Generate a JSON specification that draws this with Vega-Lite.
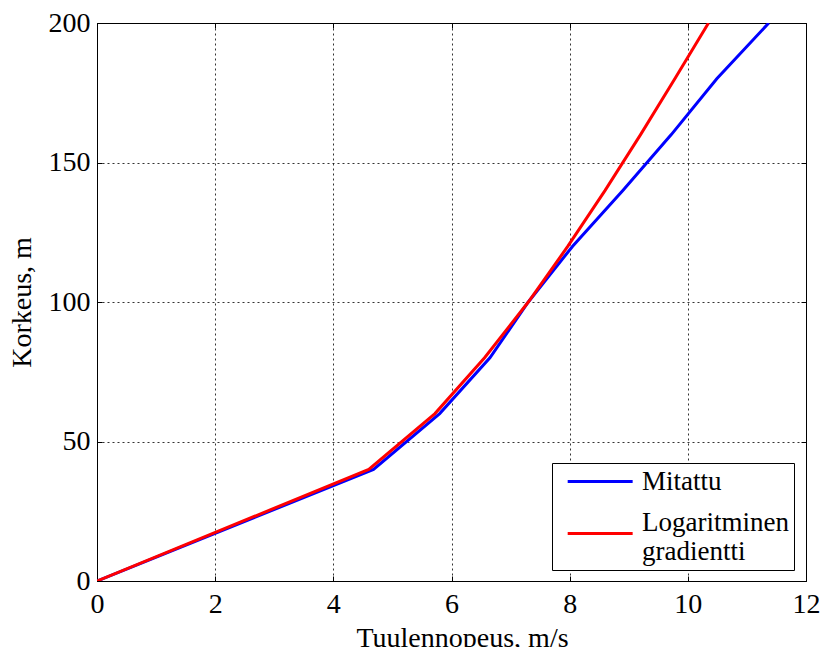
{
  "$schema": "https://vega.github.io/schema/vega-lite/v6.json",
  "width": 709,
  "height": 558,
  "autosize": {"type": "none"},
  "padding": {"left": 97, "top": 23, "right": 16, "bottom": 66},
  "background": "white",
  "config": {
    "font": "Liberation Serif",
    "view": {"stroke": "black", "strokeWidth": 1},
    "axis": {
      "labelFont": "Liberation Serif",
      "titleFont": "Liberation Serif",
      "labelFontSize": 28,
      "titleFontSize": 28,
      "titleFontWeight": "normal",
      "labelColor": "black",
      "titleColor": "black",
      "domainColor": "black",
      "tickColor": "black",
      "gridColor": "black",
      "gridDash": [2, 3],
      "gridOpacity": 0.8,
      "gridWidth": 1,
      "labelFlush": false,
      "labelOverlap": false
    }
  },
  "data": {
    "values": [
      {"v": 0, "h": 0, "s": "Mitattu"},
      {"v": 4.68, "h": 40, "s": "Mitattu"},
      {"v": 5.8, "h": 60, "s": "Mitattu"},
      {"v": 6.65, "h": 80, "s": "Mitattu"},
      {"v": 7.3, "h": 100, "s": "Mitattu"},
      {"v": 8.05, "h": 120, "s": "Mitattu"},
      {"v": 8.9, "h": 140, "s": "Mitattu"},
      {"v": 9.72, "h": 160, "s": "Mitattu"},
      {"v": 10.49, "h": 180, "s": "Mitattu"},
      {"v": 11.37, "h": 200, "s": "Mitattu"},
      {"v": 0, "h": 0, "s": "Logaritminen gradientti"},
      {"v": 4.6, "h": 40, "s": "Logaritminen gradientti"},
      {"v": 5.72, "h": 60, "s": "Logaritminen gradientti"},
      {"v": 6.56, "h": 80, "s": "Logaritminen gradientti"},
      {"v": 7.3, "h": 100, "s": "Logaritminen gradientti"},
      {"v": 7.97, "h": 120, "s": "Logaritminen gradientti"},
      {"v": 8.6, "h": 140, "s": "Logaritminen gradientti"},
      {"v": 9.2, "h": 160, "s": "Logaritminen gradientti"},
      {"v": 9.78, "h": 180, "s": "Logaritminen gradientti"},
      {"v": 10.35, "h": 200, "s": "Logaritminen gradientti"}
    ]
  },
  "layer": [
    {
      "mark": {"type": "line", "strokeWidth": 3, "clip": true},
      "encoding": {
        "x": {
          "field": "v",
          "type": "quantitative",
          "scale": {"domain": [0, 12], "nice": false, "zero": false},
          "axis": {
            "orient": "bottom",
            "grid": true,
            "values": [0, 2, 4, 6, 8, 10, 12],
            "title": "Tuulennopeus, m/s",
            "tickSize": -5,
            "labelPadding": 14,
            "titleBaseline": "alphabetic",
            "titleY": 65,
            "titleX": 365
          }
        },
        "y": {
          "field": "h",
          "type": "quantitative",
          "scale": {"domain": [0, 200], "nice": false},
          "axis": {
            "orient": "left",
            "grid": true,
            "values": [0, 50, 100, 150, 200],
            "title": "Korkeus, m",
            "tickSize": -5,
            "labelPadding": 12,
            "titleAngle": -90,
            "titleBaseline": "middle",
            "titleX": -75,
            "titleY": 279
          }
        },
        "color": {
          "field": "s",
          "type": "nominal",
          "scale": {"domain": ["Mitattu", "Logaritminen gradientti"], "range": ["#0000ff", "#ff0000"]},
          "legend": {
            "title": null,
            "orient": "none",
            "legendX": 455,
            "legendY": 440,
            "strokeColor": "black",
            "fillColor": "white",
            "padding": 5,
            "symbolType": "M-0.26,0H5.74",
            "symbolSize": 469,
            "symbolStrokeWidth": 3,
            "labelFont": "Liberation Serif",
            "labelFontSize": 27,
            "labelColor": "black",
            "labelLimit": 300,
            "labelOffset": 58,
            "rowPadding": 13,
            "labelExpr": "datum.label == 'Logaritminen gradientti' ? ['Logaritminen', 'gradientti'] : datum.label",
            "encode": {
              "labels": {"update": {"dy": {"signal": "datum.index == 1 ? -11 : 0"}}}
            }
          }
        },
        "order": {"field": "h", "type": "quantitative"}
      }
    },
    {
      "mark": {"type": "line", "opacity": 0, "clip": true},
      "encoding": {
        "x": {
          "field": "v",
          "type": "quantitative",
          "scale": {"domain": [0, 12], "nice": false, "zero": false},
          "axis": {
            "orient": "top",
            "values": [0, 2, 4, 6, 8, 10, 12],
            "title": null,
            "labels": false,
            "grid": false,
            "domain": false,
            "tickSize": -5
          }
        },
        "y": {
          "field": "h",
          "type": "quantitative",
          "scale": {"domain": [0, 200], "nice": false},
          "axis": {
            "orient": "right",
            "values": [0, 50, 100, 150, 200],
            "title": null,
            "labels": false,
            "grid": false,
            "domain": false,
            "tickSize": -5
          }
        },
        "detail": {"field": "s", "type": "nominal"}
      }
    }
  ],
  "resolve": {"axis": {"x": "independent", "y": "independent"}}
}
